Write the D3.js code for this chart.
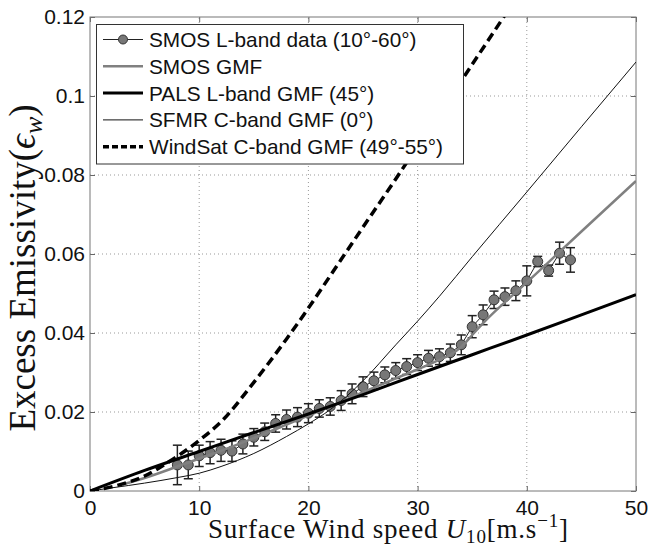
<!DOCTYPE html>
<html>
<head>
<meta charset="utf-8">
<script src="https://cdn.jsdelivr.net/npm/d3@7"></script>
<style>
  body { margin: 0; background: #fff; }
  .tick text { font-family: "Liberation Sans", Arial, sans-serif; font-size: 21px; fill: #111; }
</style>
</head>
<body>
<div id="root"></div>
<script>
// SMOS L-band data (mean + std per 1 m/s bin)
const smosWind = [8, 9, 10, 11, 12, 13, 14, 15, 16, 17, 18, 19, 20, 21, 22, 23, 24, 25, 26,
  27, 28, 29, 30, 31, 32, 33, 34, 35, 36, 37, 38, 39, 40, 41, 42, 43, 44];
const smosEmis = [0.0066, 0.0066, 0.0089, 0.0097, 0.0103, 0.0101, 0.0119, 0.0136, 0.0150, 0.0171,
  0.0181, 0.0187, 0.0197, 0.0209, 0.0214, 0.0229, 0.0246, 0.0264, 0.0279, 0.0294, 0.0305,
  0.0315, 0.0325, 0.0336, 0.0340, 0.0350, 0.0370, 0.0416, 0.0446, 0.0484, 0.0492, 0.0507,
  0.0532, 0.0581, 0.0558, 0.0602, 0.0585];
const smosStd = [0.0050, 0.0035, 0.0027, 0.0028, 0.0028, 0.0026, 0.0025, 0.0022, 0.0022, 0.0022,
  0.0024, 0.0024, 0.0024, 0.0022, 0.0022, 0.0025, 0.0025, 0.0025, 0.0022, 0.0020, 0.0020,
  0.0020, 0.0020, 0.0020, 0.0020, 0.0022, 0.0025, 0.0028, 0.0025, 0.0022, 0.0022, 0.0025,
  0.0038, 0.0013, 0.0014, 0.0028, 0.0031];

// model functions
const gmfWind = [3, 5, 8, 10, 12, 15, 18, 20, 22, 25, 28, 30, 32, 33, 34, 35, 36, 40, 45, 50];
const gmfEmis = [0.0017, 0.0033, 0.0062, 0.0082, 0.0102, 0.0134, 0.0168, 0.0191, 0.0214, 0.0250,
  0.0285, 0.0308, 0.0332, 0.0345, 0.0365, 0.0395, 0.0425, 0.0528, 0.0657, 0.0785];

const palsWind = [0, 5, 10, 15, 20, 25, 30, 35, 40, 45, 50];
const palsEmis = [0, 0.0052, 0.0100, 0.0148, 0.0195, 0.0244, 0.0295, 0.0345, 0.0395, 0.0446, 0.0497];

const sfmrWind = [0, 2, 5, 8, 10, 12, 15, 18, 20, 22, 25, 28, 30, 32, 35, 40, 45, 50];
const sfmrEmis = [0, 0.0008, 0.0020, 0.0034, 0.0045, 0.0062, 0.0095, 0.0138, 0.0170, 0.0206,
  0.0279, 0.0370, 0.0430, 0.0493, 0.0593, 0.0757, 0.0922, 0.1086];

const windsatWind = [0, 3, 5, 7, 10, 12, 15, 18, 20, 22, 25, 28, 30, 32, 35, 38, 40];
const windsatEmis = [0, 0.0018, 0.0038, 0.0070, 0.0128, 0.0175, 0.0275, 0.0385, 0.0463, 0.0545,
  0.0668, 0.0790, 0.0873, 0.0955, 0.1080, 0.1205, 0.1290];

const seriesNames = ["SMOS L-band data (10°-60°)", "SMOS GMF", "PALS L-band GMF (45°)",
  "SFMR C-band GMF (0°)", "WindSat C-band GMF (49°-55°)"];

const xTicks = [0, 10, 20, 30, 40, 50];
const yTicks = [0, 0.02, 0.04, 0.06, 0.08, 0.1, 0.12];

const w = 650;
const h = 545;

const x = d3.scaleLinear().domain([0, 50]).range([90, 636]);
const y = d3.scaleLinear().domain([0, 0.12]).range([491, 17]);

const svg = d3.select("#root")
  .append("svg")
  .attr("width", w)
  .attr("height", h);

svg.append("defs").append("clipPath")
  .attr("id", "plot-clip")
  .append("rect")
  .attr("x", 90).attr("y", 17)
  .attr("width", 546).attr("height", 474);

// dotted grid
svg.append("g")
  .selectAll("line")
  .data(xTicks.slice(1, -1))
  .enter()
  .append("line")
  .attr("x1", d => x(d)).attr("x2", d => x(d))
  .attr("y1", y(0)).attr("y2", y(0.12))
  .attr("stroke", "#999").attr("stroke-dasharray", "1,3");

svg.append("g")
  .selectAll("line")
  .data(yTicks.slice(1, -1))
  .enter()
  .append("line")
  .attr("x1", x(0)).attr("x2", x(50))
  .attr("y1", d => y(d)).attr("y2", d => y(d))
  .attr("stroke", "#999").attr("stroke-dasharray", "1,3");

// axes, ticks pointing inward
const xAxis = d3.axisBottom(x).tickValues(xTicks).tickSizeInner(-5).tickSizeOuter(0).tickPadding(9);
const yAxis = d3.axisLeft(y).tickValues(yTicks).tickSizeInner(-5).tickSizeOuter(0).tickPadding(5)
  .tickFormat(d => d === 0 ? "0" : String(+d.toFixed(2)));

svg.append("g")
  .attr("transform", `translate(0, ${y(0)})`)
  .call(xAxis);
svg.append("g")
  .attr("transform", `translate(${x(0)}, 0)`)
  .call(yAxis);
svg.append("g")
  .attr("transform", `translate(0, ${y(0.12)})`)
  .call(d3.axisTop(x).tickValues(xTicks).tickSizeInner(-5).tickSizeOuter(0).tickFormat(""));
svg.append("g")
  .attr("transform", `translate(${x(50)}, 0)`)
  .call(d3.axisRight(y).tickValues(yTicks).tickSizeInner(-5).tickSizeOuter(0).tickFormat(""));

svg.selectAll(".domain").remove();
svg.selectAll(".tick line").attr("stroke", "#666");

svg.append("rect")
  .attr("x", x(0)).attr("y", y(0.12))
  .attr("width", x(50) - x(0)).attr("height", y(0) - y(0.12))
  .attr("fill", "none").attr("stroke", "#777");

// data
const plot = svg.append("g").attr("clip-path", "url(#plot-clip)");
const smos = smosWind.map((u, i) => ({ u: u, e: smosEmis[i], s: smosStd[i] }));

const bars = plot.append("g").attr("stroke", "#222").attr("stroke-width", 1.5);
bars.selectAll(".stem")
  .data(smos)
  .enter()
  .append("line")
  .attr("x1", d => x(d.u)).attr("x2", d => x(d.u))
  .attr("y1", d => y(d.e - d.s)).attr("y2", d => y(d.e + d.s));
bars.selectAll(".capLo")
  .data(smos)
  .enter()
  .append("line")
  .attr("x1", d => x(d.u) - 4.5).attr("x2", d => x(d.u) + 4.5)
  .attr("y1", d => y(d.e - d.s)).attr("y2", d => y(d.e - d.s));
bars.selectAll(".capHi")
  .data(smos)
  .enter()
  .append("line")
  .attr("x1", d => x(d.u) - 4.5).attr("x2", d => x(d.u) + 4.5)
  .attr("y1", d => y(d.e + d.s)).attr("y2", d => y(d.e + d.s));

plot.append("path")
  .datum(smos)
  .attr("fill", "none").attr("stroke", "#222").attr("stroke-width", 1)
  .attr("d", d3.line().x(d => x(d.u)).y(d => y(d.e)));

plot.selectAll("circle")
  .data(smos)
  .enter()
  .append("circle")
  .attr("cx", d => x(d.u)).attr("cy", d => y(d.e))
  .attr("r", 5)
  .attr("fill", "#777").attr("stroke", "#333").attr("stroke-width", 1);

const curve = d3.line().x(d => x(d[0])).y(d => y(d[1])).curve(d3.curveMonotoneX);
const zip = (a, b) => a.map((v, i) => [v, b[i]]);

const styles = [
  { stroke: "#222", width: 1, dash: null },
  { stroke: "#808080", width: 2.5, dash: null },
  { stroke: "#000", width: 3, dash: null },
  { stroke: "#111", width: 1, dash: null },
  { stroke: "#000", width: 3.5, dash: "9,5" }
];
const curves = [null, zip(gmfWind, gmfEmis), zip(palsWind, palsEmis),
  zip(sfmrWind, sfmrEmis), zip(windsatWind, windsatEmis)];

curves.forEach((pts, i) => {
  if (!pts) return;
  plot.append("path")
    .datum(pts)
    .attr("fill", "none")
    .attr("stroke", styles[i].stroke)
    .attr("stroke-width", styles[i].width)
    .attr("stroke-dasharray", styles[i].dash)
    .attr("d", curve);
});

// legend
const legend = svg.append("g");
legend.append("rect")
  .attr("x", 96.5).attr("y", 24.5)
  .attr("width", 367).attr("height", 139.5)
  .attr("fill", "#fff").attr("stroke", "#333").attr("stroke-width", 1);

const rows = legend.selectAll(".item")
  .data(seriesNames)
  .enter()
  .append("g")
  .attr("transform", (d, i) => `translate(0, ${39.5 + 26.8 * i})`);
rows.append("line")
  .attr("x1", 103).attr("x2", 143)
  .attr("stroke", (d, i) => styles[i].stroke)
  .attr("stroke-width", (d, i) => styles[i].width)
  .attr("stroke-dasharray", (d, i) => i === 4 ? "6,3" : null);
rows.filter((d, i) => i === 0)
  .append("circle")
  .attr("cx", 123).attr("r", 4.5)
  .attr("fill", "#777").attr("stroke", "#333");
rows.append("text")
  .attr("x", 149).attr("y", 7.5)
  .attr("font-family", "Liberation Sans, Arial, sans-serif")
  .attr("font-size", 20.8)
  .attr("fill", "#111")
  .text(d => d);

// axis titles
const xTitle = svg.append("text")
  .attr("x", 208).attr("y", 538)
  .attr("font-family", "Liberation Serif, Times New Roman, serif")
  .attr("font-size", 27)
  .attr("letter-spacing", 0.8)
  .attr("fill", "#111");
xTitle.append("tspan").text("Surface Wind speed ");
xTitle.append("tspan").attr("font-style", "italic").text("U");
xTitle.append("tspan").attr("font-size", 19).attr("dy", 5).text("10");
xTitle.append("tspan").attr("dy", -5).text("[m.s");
xTitle.append("tspan").attr("font-size", 19).attr("dy", -11).text("−1");
xTitle.append("tspan").attr("dy", 11).text("]");

const yTitle = svg.append("text")
  .attr("transform", "translate(35, 268) rotate(-90)")
  .attr("text-anchor", "middle")
  .attr("font-family", "Liberation Serif, Times New Roman, serif")
  .attr("font-size", 37)
  .attr("fill", "#111");
yTitle.append("tspan").text("Excess Emissivity(");
yTitle.append("tspan").attr("font-style", "italic").text("ϵ");
yTitle.append("tspan").attr("font-style", "italic").attr("font-size", 26).attr("dy", 7).text("w");
yTitle.append("tspan").attr("dy", -7).text(")");
</script>
</body>
</html>
